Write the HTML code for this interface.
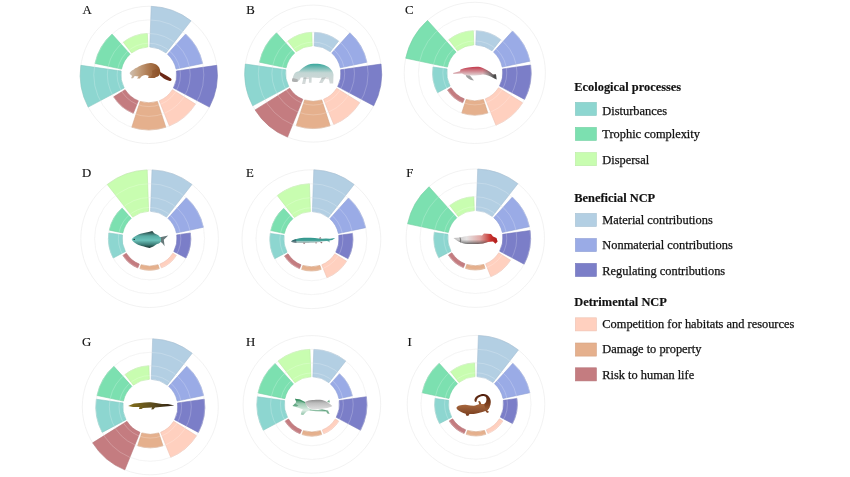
<!DOCTYPE html>
<html lang="en"><head><meta charset="utf-8"><title>Figure</title>
<style>
html,body{margin:0;padding:0;background:#fff}
svg{display:block;filter:blur(0.3px)}
text{font-family:"Liberation Serif","DejaVu Serif",serif;fill:#111}
.lab{font-size:12.8px;stroke:#111;stroke-width:0.15px}
.lh{font-size:12.4px;font-weight:bold;stroke:#111;stroke-width:0.15px}
.li{font-size:12.4px;stroke:#111;stroke-width:0.25px}
</style></head><body>
<svg width="850" height="477" viewBox="0 0 850 477">
<rect width="850" height="477" fill="#fff"/>
<g>
<circle cx="148.8" cy="74.9" r="41.47" fill="none" stroke="#e9e9e9" stroke-width="0.6"/>
<circle cx="148.8" cy="74.9" r="55.03" fill="none" stroke="#e9e9e9" stroke-width="0.6"/>
<circle cx="148.8" cy="74.9" r="68.60" fill="none" stroke="#e9e9e9" stroke-width="0.6"/>
<path d="M149.77,47.02L151.19,6.34A68.60,68.60 0 0 1 191.03,20.84L165.98,52.91A27.90,27.90 0 0 0 149.77,47.02Z" fill="#B3CFE3" stroke="#a6c0d3" stroke-width="0.6"/>
<path d="M167.47,54.17L185.62,34.00A55.03,55.03 0 0 1 202.63,63.46L176.09,69.10A27.90,27.90 0 0 0 167.47,54.17Z" fill="#9AABE6" stroke="#8f9fd5" stroke-width="0.6"/>
<path d="M176.43,71.02L216.73,65.35A68.60,68.60 0 0 1 209.37,107.11L173.43,88.00A27.90,27.90 0 0 0 176.43,71.02Z" fill="#7B7EC8" stroke="#7275ba" stroke-width="0.6"/>
<path d="M172.46,89.68L195.47,104.06A55.03,55.03 0 0 1 169.42,125.93L159.25,100.77A27.90,27.90 0 0 0 172.46,89.68Z" fill="#FFD0BF" stroke="#edc1b1" stroke-width="0.6"/>
<path d="M157.42,101.43L165.81,127.24A55.03,55.03 0 0 1 131.79,127.24L140.18,101.43A27.90,27.90 0 0 0 157.42,101.43Z" fill="#E5B08D" stroke="#d4a383" stroke-width="0.6"/>
<path d="M138.35,100.77L133.27,113.35A41.47,41.47 0 0 1 113.63,96.87L125.14,89.68A27.90,27.90 0 0 0 138.35,100.77Z" fill="#C47C80" stroke="#b67377" stroke-width="0.6"/>
<path d="M124.17,88.00L88.23,107.11A68.60,68.60 0 0 1 80.87,65.35L121.17,71.02A27.90,27.90 0 0 0 124.17,88.00Z" fill="#8DD6D0" stroke="#83c7c1" stroke-width="0.6"/>
<path d="M121.51,69.10L94.97,63.46A55.03,55.03 0 0 1 111.98,34.00L130.13,54.17A27.90,27.90 0 0 0 121.51,69.10Z" fill="#7CE0B0" stroke="#73d0a3" stroke-width="0.6"/>
<path d="M131.62,52.91L123.27,42.22A41.47,41.47 0 0 1 147.35,33.46L147.83,47.02A27.90,27.90 0 0 0 131.62,52.91Z" fill="#C8FDB0" stroke="#baeba3" stroke-width="0.6"/>
<circle cx="148.8" cy="74.9" r="31.70" fill="none" stroke="#fff" stroke-opacity="0.35" stroke-width="0.6"/>
<circle cx="148.8" cy="74.9" r="41.47" fill="none" stroke="#fff" stroke-opacity="0.35" stroke-width="0.6"/>
<circle cx="148.8" cy="74.9" r="55.03" fill="none" stroke="#fff" stroke-opacity="0.35" stroke-width="0.6"/>
</g>
<text x="82.4" y="13.9" class="lab">A</text>
<g>
<circle cx="313.2" cy="73.6" r="41.30" fill="none" stroke="#e9e9e9" stroke-width="0.6"/>
<circle cx="313.2" cy="73.6" r="54.90" fill="none" stroke="#e9e9e9" stroke-width="0.6"/>
<circle cx="313.2" cy="73.6" r="68.50" fill="none" stroke="#e9e9e9" stroke-width="0.6"/>
<path d="M314.17,45.92L314.64,32.33A41.30,41.30 0 0 1 338.63,41.06L330.25,51.77A27.70,27.70 0 0 0 314.17,45.92Z" fill="#B3CFE3" stroke="#a6c0d3" stroke-width="0.6"/>
<path d="M331.73,53.01L349.94,32.80A54.90,54.90 0 0 1 366.90,62.19L340.29,67.84A27.70,27.70 0 0 0 331.73,53.01Z" fill="#9AABE6" stroke="#8f9fd5" stroke-width="0.6"/>
<path d="M340.63,69.74L381.03,64.07A68.50,68.50 0 0 1 373.68,105.76L337.66,86.60A27.70,27.70 0 0 0 340.63,69.74Z" fill="#7B7EC8" stroke="#7275ba" stroke-width="0.6"/>
<path d="M336.69,88.28L359.76,102.69A54.90,54.90 0 0 1 333.77,124.50L323.58,99.28A27.70,27.70 0 0 0 336.69,88.28Z" fill="#FFD0BF" stroke="#edc1b1" stroke-width="0.6"/>
<path d="M321.76,99.94L330.17,125.81A54.90,54.90 0 0 1 296.23,125.81L304.64,99.94A27.70,27.70 0 0 0 321.76,99.94Z" fill="#E5B08D" stroke="#d4a383" stroke-width="0.6"/>
<path d="M302.82,99.28L287.54,137.11A68.50,68.50 0 0 1 255.11,109.90L289.71,88.28A27.70,27.70 0 0 0 302.82,99.28Z" fill="#C47C80" stroke="#b67377" stroke-width="0.6"/>
<path d="M288.74,86.60L252.72,105.76A68.50,68.50 0 0 1 245.37,64.07L285.77,69.74A27.70,27.70 0 0 0 288.74,86.60Z" fill="#8DD6D0" stroke="#83c7c1" stroke-width="0.6"/>
<path d="M286.11,67.84L259.50,62.19A54.90,54.90 0 0 1 276.46,32.80L294.67,53.01A27.70,27.70 0 0 0 286.11,67.84Z" fill="#7CE0B0" stroke="#73d0a3" stroke-width="0.6"/>
<path d="M296.15,51.77L287.77,41.06A41.30,41.30 0 0 1 311.76,32.33L312.23,45.92A27.70,27.70 0 0 0 296.15,51.77Z" fill="#C8FDB0" stroke="#baeba3" stroke-width="0.6"/>
<circle cx="313.2" cy="73.6" r="31.51" fill="none" stroke="#fff" stroke-opacity="0.35" stroke-width="0.6"/>
<circle cx="313.2" cy="73.6" r="41.30" fill="none" stroke="#fff" stroke-opacity="0.35" stroke-width="0.6"/>
<circle cx="313.2" cy="73.6" r="54.90" fill="none" stroke="#fff" stroke-opacity="0.35" stroke-width="0.6"/>
</g>
<text x="246.2" y="13.9" class="lab">B</text>
<g>
<circle cx="474.8" cy="72.9" r="42.20" fill="none" stroke="#e9e9e9" stroke-width="0.6"/>
<circle cx="474.8" cy="72.9" r="56.40" fill="none" stroke="#e9e9e9" stroke-width="0.6"/>
<circle cx="474.8" cy="72.9" r="70.60" fill="none" stroke="#e9e9e9" stroke-width="0.6"/>
<path d="M475.78,44.92L476.27,30.73A42.20,42.20 0 0 1 500.78,39.65L492.04,50.84A28.00,28.00 0 0 0 475.78,44.92Z" fill="#B3CFE3" stroke="#a6c0d3" stroke-width="0.6"/>
<path d="M493.54,52.09L512.54,30.99A56.40,56.40 0 0 1 529.97,61.17L502.19,67.08A28.00,28.00 0 0 0 493.54,52.09Z" fill="#9AABE6" stroke="#8f9fd5" stroke-width="0.6"/>
<path d="M502.53,69.00L530.65,65.05A56.40,56.40 0 0 1 524.60,99.38L499.52,86.05A28.00,28.00 0 0 0 502.53,69.00Z" fill="#7B7EC8" stroke="#7275ba" stroke-width="0.6"/>
<path d="M498.55,87.74L522.63,102.79A56.40,56.40 0 0 1 495.93,125.19L485.29,98.86A28.00,28.00 0 0 0 498.55,87.74Z" fill="#FFD0BF" stroke="#edc1b1" stroke-width="0.6"/>
<path d="M483.45,99.53L487.84,113.03A42.20,42.20 0 0 1 461.76,113.03L466.15,99.53A28.00,28.00 0 0 0 483.45,99.53Z" fill="#E5B08D" stroke="#d4a383" stroke-width="0.6"/>
<path d="M464.31,98.86L462.72,102.81A32.26,32.26 0 0 1 447.44,90.00L451.05,87.74A28.00,28.00 0 0 0 464.31,98.86Z" fill="#C47C80" stroke="#b67377" stroke-width="0.6"/>
<path d="M450.08,86.05L437.54,92.71A42.20,42.20 0 0 1 433.01,67.03L447.07,69.00A28.00,28.00 0 0 0 450.08,86.05Z" fill="#8DD6D0" stroke="#83c7c1" stroke-width="0.6"/>
<path d="M447.41,67.08L405.74,58.22A70.60,70.60 0 0 1 427.56,20.43L456.06,52.09A28.00,28.00 0 0 0 447.41,67.08Z" fill="#7CE0B0" stroke="#73d0a3" stroke-width="0.6"/>
<path d="M457.56,50.84L448.82,39.65A42.20,42.20 0 0 1 473.33,30.73L473.82,44.92A28.00,28.00 0 0 0 457.56,50.84Z" fill="#C8FDB0" stroke="#baeba3" stroke-width="0.6"/>
<circle cx="474.8" cy="72.9" r="31.98" fill="none" stroke="#fff" stroke-opacity="0.35" stroke-width="0.6"/>
<circle cx="474.8" cy="72.9" r="42.20" fill="none" stroke="#fff" stroke-opacity="0.35" stroke-width="0.6"/>
<circle cx="474.8" cy="72.9" r="56.40" fill="none" stroke="#fff" stroke-opacity="0.35" stroke-width="0.6"/>
</g>
<text x="405.1" y="13.9" class="lab">C</text>
<g>
<circle cx="149.6" cy="238.7" r="41.20" fill="none" stroke="#e9e9e9" stroke-width="0.6"/>
<circle cx="149.6" cy="238.7" r="55.00" fill="none" stroke="#e9e9e9" stroke-width="0.6"/>
<circle cx="149.6" cy="238.7" r="68.80" fill="none" stroke="#e9e9e9" stroke-width="0.6"/>
<path d="M150.56,211.32L152.00,169.94A68.80,68.80 0 0 1 191.96,184.48L166.47,217.11A27.40,27.40 0 0 0 150.56,211.32Z" fill="#B3CFE3" stroke="#a6c0d3" stroke-width="0.6"/>
<path d="M167.93,218.34L186.40,197.83A55.00,55.00 0 0 1 203.40,227.26L176.40,233.00A27.40,27.40 0 0 0 167.93,218.34Z" fill="#9AABE6" stroke="#8f9fd5" stroke-width="0.6"/>
<path d="M176.73,234.89L190.40,232.97A41.20,41.20 0 0 1 185.98,258.04L173.79,251.56A27.40,27.40 0 0 0 176.73,234.89Z" fill="#7B7EC8" stroke="#7275ba" stroke-width="0.6"/>
<path d="M172.84,253.22L176.35,255.41A31.54,31.54 0 0 1 161.42,267.94L159.86,264.10A27.40,27.40 0 0 0 172.84,253.22Z" fill="#FFD0BF" stroke="#edc1b1" stroke-width="0.6"/>
<path d="M158.07,264.76L159.35,268.70A31.54,31.54 0 0 1 139.85,268.70L141.13,264.76A27.40,27.40 0 0 0 158.07,264.76Z" fill="#E5B08D" stroke="#d4a383" stroke-width="0.6"/>
<path d="M139.34,264.10L137.78,267.94A31.54,31.54 0 0 1 122.85,255.41L126.36,253.22A27.40,27.40 0 0 0 139.34,264.10Z" fill="#C47C80" stroke="#b67377" stroke-width="0.6"/>
<path d="M125.41,251.56L113.22,258.04A41.20,41.20 0 0 1 108.80,232.97L122.47,234.89A27.40,27.40 0 0 0 125.41,251.56Z" fill="#8DD6D0" stroke="#83c7c1" stroke-width="0.6"/>
<path d="M122.80,233.00L109.30,230.13A41.20,41.20 0 0 1 122.03,208.08L131.27,218.34A27.40,27.40 0 0 0 122.80,233.00Z" fill="#7CE0B0" stroke="#73d0a3" stroke-width="0.6"/>
<path d="M132.73,217.11L107.24,184.48A68.80,68.80 0 0 1 147.20,169.94L148.64,211.32A27.40,27.40 0 0 0 132.73,217.11Z" fill="#C8FDB0" stroke="#baeba3" stroke-width="0.6"/>
<circle cx="149.6" cy="238.7" r="31.26" fill="none" stroke="#fff" stroke-opacity="0.35" stroke-width="0.6"/>
<circle cx="149.6" cy="238.7" r="41.20" fill="none" stroke="#fff" stroke-opacity="0.35" stroke-width="0.6"/>
<circle cx="149.6" cy="238.7" r="55.00" fill="none" stroke="#fff" stroke-opacity="0.35" stroke-width="0.6"/>
</g>
<text x="82.1" y="176.8" class="lab">D</text>
<g>
<circle cx="311.4" cy="239.2" r="41.53" fill="none" stroke="#e9e9e9" stroke-width="0.6"/>
<circle cx="311.4" cy="239.2" r="55.47" fill="none" stroke="#e9e9e9" stroke-width="0.6"/>
<circle cx="311.4" cy="239.2" r="69.40" fill="none" stroke="#e9e9e9" stroke-width="0.6"/>
<path d="M312.36,211.62L313.82,169.84A69.40,69.40 0 0 1 354.13,184.51L328.39,217.45A27.60,27.60 0 0 0 312.36,211.62Z" fill="#B3CFE3" stroke="#a6c0d3" stroke-width="0.6"/>
<path d="M329.87,218.69L348.51,197.98A55.47,55.47 0 0 1 365.65,227.67L338.40,233.46A27.60,27.60 0 0 0 329.87,218.69Z" fill="#9AABE6" stroke="#8f9fd5" stroke-width="0.6"/>
<path d="M338.73,235.36L352.53,233.42A41.53,41.53 0 0 1 348.07,258.70L335.77,252.16A27.60,27.60 0 0 0 338.73,235.36Z" fill="#7B7EC8" stroke="#7275ba" stroke-width="0.6"/>
<path d="M334.81,253.83L346.62,261.21A41.53,41.53 0 0 1 326.96,277.71L321.74,264.79A27.60,27.60 0 0 0 334.81,253.83Z" fill="#FFD0BF" stroke="#edc1b1" stroke-width="0.6"/>
<path d="M319.93,265.45L321.22,269.42A31.78,31.78 0 0 1 301.58,269.42L302.87,265.45A27.60,27.60 0 0 0 319.93,265.45Z" fill="#E5B08D" stroke="#d4a383" stroke-width="0.6"/>
<path d="M301.06,264.79L299.50,268.67A31.78,31.78 0 0 1 284.45,256.04L287.99,253.83A27.60,27.60 0 0 0 301.06,264.79Z" fill="#C47C80" stroke="#b67377" stroke-width="0.6"/>
<path d="M287.03,252.16L274.73,258.70A41.53,41.53 0 0 1 270.27,233.42L284.07,235.36A27.60,27.60 0 0 0 287.03,252.16Z" fill="#8DD6D0" stroke="#83c7c1" stroke-width="0.6"/>
<path d="M284.40,233.46L270.77,230.56A41.53,41.53 0 0 1 283.61,208.33L292.93,218.69A27.60,27.60 0 0 0 284.40,233.46Z" fill="#7CE0B0" stroke="#73d0a3" stroke-width="0.6"/>
<path d="M294.41,217.45L277.25,195.49A55.47,55.47 0 0 1 309.46,183.77L310.44,211.62A27.60,27.60 0 0 0 294.41,217.45Z" fill="#C8FDB0" stroke="#baeba3" stroke-width="0.6"/>
<circle cx="311.4" cy="239.2" r="31.50" fill="none" stroke="#fff" stroke-opacity="0.35" stroke-width="0.6"/>
<circle cx="311.4" cy="239.2" r="41.53" fill="none" stroke="#fff" stroke-opacity="0.35" stroke-width="0.6"/>
<circle cx="311.4" cy="239.2" r="55.47" fill="none" stroke="#fff" stroke-opacity="0.35" stroke-width="0.6"/>
</g>
<text x="246.1" y="176.8" class="lab">E</text>
<g>
<circle cx="475.3" cy="238.2" r="41.47" fill="none" stroke="#e9e9e9" stroke-width="0.6"/>
<circle cx="475.3" cy="238.2" r="55.33" fill="none" stroke="#e9e9e9" stroke-width="0.6"/>
<circle cx="475.3" cy="238.2" r="69.20" fill="none" stroke="#e9e9e9" stroke-width="0.6"/>
<path d="M476.26,210.62L477.72,169.04A69.20,69.20 0 0 1 517.90,183.67L492.29,216.45A27.60,27.60 0 0 0 476.26,210.62Z" fill="#B3CFE3" stroke="#a6c0d3" stroke-width="0.6"/>
<path d="M493.77,217.69L512.33,197.08A55.33,55.33 0 0 1 529.42,226.70L502.30,232.46A27.60,27.60 0 0 0 493.77,217.69Z" fill="#9AABE6" stroke="#8f9fd5" stroke-width="0.6"/>
<path d="M502.63,234.36L530.09,230.50A55.33,55.33 0 0 1 524.16,264.18L499.67,251.16A27.60,27.60 0 0 0 502.63,234.36Z" fill="#7B7EC8" stroke="#7275ba" stroke-width="0.6"/>
<path d="M498.71,252.83L510.47,260.17A41.47,41.47 0 0 1 490.83,276.65L485.64,263.79A27.60,27.60 0 0 0 498.71,252.83Z" fill="#FFD0BF" stroke="#edc1b1" stroke-width="0.6"/>
<path d="M483.83,264.45L485.11,268.41A31.76,31.76 0 0 1 465.49,268.41L466.77,264.45A27.60,27.60 0 0 0 483.83,264.45Z" fill="#E5B08D" stroke="#d4a383" stroke-width="0.6"/>
<path d="M464.96,263.79L463.40,267.65A31.76,31.76 0 0 1 448.37,255.03L451.89,252.83A27.60,27.60 0 0 0 464.96,263.79Z" fill="#C47C80" stroke="#b67377" stroke-width="0.6"/>
<path d="M450.93,251.16L438.69,257.67A41.47,41.47 0 0 1 434.24,232.43L447.97,234.36A27.60,27.60 0 0 0 450.93,251.16Z" fill="#8DD6D0" stroke="#83c7c1" stroke-width="0.6"/>
<path d="M448.30,232.46L407.61,223.81A69.20,69.20 0 0 1 429.00,186.77L456.83,217.69A27.60,27.60 0 0 0 448.30,232.46Z" fill="#7CE0B0" stroke="#73d0a3" stroke-width="0.6"/>
<path d="M458.31,216.45L449.77,205.52A41.47,41.47 0 0 1 473.85,196.76L474.34,210.62A27.60,27.60 0 0 0 458.31,216.45Z" fill="#C8FDB0" stroke="#baeba3" stroke-width="0.6"/>
<circle cx="475.3" cy="238.2" r="31.48" fill="none" stroke="#fff" stroke-opacity="0.35" stroke-width="0.6"/>
<circle cx="475.3" cy="238.2" r="41.47" fill="none" stroke="#fff" stroke-opacity="0.35" stroke-width="0.6"/>
<circle cx="475.3" cy="238.2" r="55.33" fill="none" stroke="#fff" stroke-opacity="0.35" stroke-width="0.6"/>
</g>
<text x="406.2" y="176.8" class="lab">F</text>
<g>
<circle cx="150.3" cy="406.8" r="41.00" fill="none" stroke="#e9e9e9" stroke-width="0.6"/>
<circle cx="150.3" cy="406.8" r="54.50" fill="none" stroke="#e9e9e9" stroke-width="0.6"/>
<circle cx="150.3" cy="406.8" r="68.00" fill="none" stroke="#e9e9e9" stroke-width="0.6"/>
<path d="M151.26,379.32L152.67,338.84A68.00,68.00 0 0 1 192.16,353.22L167.23,385.13A27.50,27.50 0 0 0 151.26,379.32Z" fill="#B3CFE3" stroke="#a6c0d3" stroke-width="0.6"/>
<path d="M168.70,386.36L186.77,366.30A54.50,54.50 0 0 1 203.61,395.47L177.20,401.08A27.50,27.50 0 0 0 168.70,386.36Z" fill="#9AABE6" stroke="#8f9fd5" stroke-width="0.6"/>
<path d="M177.53,402.97L204.27,399.22A54.50,54.50 0 0 1 198.42,432.39L174.58,419.71A27.50,27.50 0 0 0 177.53,402.97Z" fill="#7B7EC8" stroke="#7275ba" stroke-width="0.6"/>
<path d="M173.62,421.37L196.52,435.68A54.50,54.50 0 0 1 170.72,457.33L160.60,432.30A27.50,27.50 0 0 0 173.62,421.37Z" fill="#FFD0BF" stroke="#edc1b1" stroke-width="0.6"/>
<path d="M158.80,432.95L162.97,445.79A41.00,41.00 0 0 1 137.63,445.79L141.80,432.95A27.50,27.50 0 0 0 158.80,432.95Z" fill="#E5B08D" stroke="#d4a383" stroke-width="0.6"/>
<path d="M140.00,432.30L124.83,469.85A68.00,68.00 0 0 1 92.63,442.83L126.98,421.37A27.50,27.50 0 0 0 140.00,432.30Z" fill="#C47C80" stroke="#b67377" stroke-width="0.6"/>
<path d="M126.02,419.71L102.18,432.39A54.50,54.50 0 0 1 96.33,399.22L123.07,402.97A27.50,27.50 0 0 0 126.02,419.71Z" fill="#8DD6D0" stroke="#83c7c1" stroke-width="0.6"/>
<path d="M123.40,401.08L96.99,395.47A54.50,54.50 0 0 1 113.83,366.30L131.90,386.36A27.50,27.50 0 0 0 123.40,401.08Z" fill="#7CE0B0" stroke="#73d0a3" stroke-width="0.6"/>
<path d="M133.37,385.13L125.06,374.49A41.00,41.00 0 0 1 148.87,365.82L149.34,379.32A27.50,27.50 0 0 0 133.37,385.13Z" fill="#C8FDB0" stroke="#baeba3" stroke-width="0.6"/>
<circle cx="150.3" cy="406.8" r="31.28" fill="none" stroke="#fff" stroke-opacity="0.35" stroke-width="0.6"/>
<circle cx="150.3" cy="406.8" r="41.00" fill="none" stroke="#fff" stroke-opacity="0.35" stroke-width="0.6"/>
<circle cx="150.3" cy="406.8" r="54.50" fill="none" stroke="#fff" stroke-opacity="0.35" stroke-width="0.6"/>
</g>
<text x="82.1" y="346" class="lab">G</text>
<g>
<circle cx="311.9" cy="404.4" r="41.33" fill="none" stroke="#e9e9e9" stroke-width="0.6"/>
<circle cx="311.9" cy="404.4" r="55.07" fill="none" stroke="#e9e9e9" stroke-width="0.6"/>
<circle cx="311.9" cy="404.4" r="68.80" fill="none" stroke="#e9e9e9" stroke-width="0.6"/>
<path d="M312.86,376.82L313.82,349.37A55.07,55.07 0 0 1 345.80,361.01L328.89,382.65A27.60,27.60 0 0 0 312.86,376.82Z" fill="#B3CFE3" stroke="#a6c0d3" stroke-width="0.6"/>
<path d="M330.37,383.89L339.56,373.68A41.33,41.33 0 0 1 352.33,395.81L338.90,398.66A27.60,27.60 0 0 0 330.37,383.89Z" fill="#9AABE6" stroke="#8f9fd5" stroke-width="0.6"/>
<path d="M339.23,400.56L366.43,396.74A55.07,55.07 0 0 1 360.52,430.25L336.27,417.36A27.60,27.60 0 0 0 339.23,400.56Z" fill="#7B7EC8" stroke="#7275ba" stroke-width="0.6"/>
<path d="M335.31,419.03L338.80,421.21A31.72,31.72 0 0 1 323.78,433.81L322.24,429.99A27.60,27.60 0 0 0 335.31,419.03Z" fill="#FFD0BF" stroke="#edc1b1" stroke-width="0.6"/>
<path d="M320.43,430.65L321.70,434.57A31.72,31.72 0 0 1 302.10,434.57L303.37,430.65A27.60,27.60 0 0 0 320.43,430.65Z" fill="#E5B08D" stroke="#d4a383" stroke-width="0.6"/>
<path d="M301.56,429.99L300.02,433.81A31.72,31.72 0 0 1 285.00,421.21L288.49,419.03A27.60,27.60 0 0 0 301.56,429.99Z" fill="#C47C80" stroke="#b67377" stroke-width="0.6"/>
<path d="M287.53,417.36L263.28,430.25A55.07,55.07 0 0 1 257.37,396.74L284.57,400.56A27.60,27.60 0 0 0 287.53,417.36Z" fill="#8DD6D0" stroke="#83c7c1" stroke-width="0.6"/>
<path d="M284.90,398.66L258.04,392.95A55.07,55.07 0 0 1 275.05,363.48L293.43,383.89A27.60,27.60 0 0 0 284.90,398.66Z" fill="#7CE0B0" stroke="#73d0a3" stroke-width="0.6"/>
<path d="M294.91,382.65L278.00,361.01A55.07,55.07 0 0 1 309.98,349.37L310.94,376.82A27.60,27.60 0 0 0 294.91,382.65Z" fill="#C8FDB0" stroke="#baeba3" stroke-width="0.6"/>
<circle cx="311.9" cy="404.4" r="31.45" fill="none" stroke="#fff" stroke-opacity="0.35" stroke-width="0.6"/>
<circle cx="311.9" cy="404.4" r="41.33" fill="none" stroke="#fff" stroke-opacity="0.35" stroke-width="0.6"/>
<circle cx="311.9" cy="404.4" r="55.07" fill="none" stroke="#fff" stroke-opacity="0.35" stroke-width="0.6"/>
</g>
<text x="246.1" y="346" class="lab">H</text>
<g>
<circle cx="476.0" cy="404.2" r="41.33" fill="none" stroke="#e9e9e9" stroke-width="0.6"/>
<circle cx="476.0" cy="404.2" r="55.07" fill="none" stroke="#e9e9e9" stroke-width="0.6"/>
<circle cx="476.0" cy="404.2" r="68.80" fill="none" stroke="#e9e9e9" stroke-width="0.6"/>
<path d="M476.96,376.62L478.40,335.44A68.80,68.80 0 0 1 518.36,349.98L492.99,382.45A27.60,27.60 0 0 0 476.96,376.62Z" fill="#B3CFE3" stroke="#a6c0d3" stroke-width="0.6"/>
<path d="M494.47,383.69L512.85,363.28A55.07,55.07 0 0 1 529.86,392.75L503.00,398.46A27.60,27.60 0 0 0 494.47,383.69Z" fill="#9AABE6" stroke="#8f9fd5" stroke-width="0.6"/>
<path d="M503.33,400.36L516.93,398.45A41.33,41.33 0 0 1 512.50,423.60L500.37,417.16A27.60,27.60 0 0 0 503.33,400.36Z" fill="#7B7EC8" stroke="#7275ba" stroke-width="0.6"/>
<path d="M499.41,418.83L502.90,421.01A31.72,31.72 0 0 1 487.88,433.61L486.34,429.79A27.60,27.60 0 0 0 499.41,418.83Z" fill="#FFD0BF" stroke="#edc1b1" stroke-width="0.6"/>
<path d="M484.53,430.45L485.80,434.37A31.72,31.72 0 0 1 466.20,434.37L467.47,430.45A27.60,27.60 0 0 0 484.53,430.45Z" fill="#E5B08D" stroke="#d4a383" stroke-width="0.6"/>
<path d="M465.66,429.79L464.12,433.61A31.72,31.72 0 0 1 449.10,421.01L452.59,418.83A27.60,27.60 0 0 0 465.66,429.79Z" fill="#C47C80" stroke="#b67377" stroke-width="0.6"/>
<path d="M451.63,417.16L439.50,423.60A41.33,41.33 0 0 1 435.07,398.45L448.67,400.36A27.60,27.60 0 0 0 451.63,417.16Z" fill="#8DD6D0" stroke="#83c7c1" stroke-width="0.6"/>
<path d="M449.00,398.46L422.14,392.75A55.07,55.07 0 0 1 439.15,363.28L457.53,383.69A27.60,27.60 0 0 0 449.00,398.46Z" fill="#7CE0B0" stroke="#73d0a3" stroke-width="0.6"/>
<path d="M459.01,382.45L450.55,371.63A41.33,41.33 0 0 1 474.56,362.89L475.04,376.62A27.60,27.60 0 0 0 459.01,382.45Z" fill="#C8FDB0" stroke="#baeba3" stroke-width="0.6"/>
<circle cx="476.0" cy="404.2" r="31.45" fill="none" stroke="#fff" stroke-opacity="0.35" stroke-width="0.6"/>
<circle cx="476.0" cy="404.2" r="41.33" fill="none" stroke="#fff" stroke-opacity="0.35" stroke-width="0.6"/>
<circle cx="476.0" cy="404.2" r="55.07" fill="none" stroke="#fff" stroke-opacity="0.35" stroke-width="0.6"/>
</g>
<text x="407.6" y="346" class="lab">I</text>
<defs>
<filter id="soft" x="-5%" y="-5%" width="110%" height="110%"><feGaussianBlur stdDeviation="0.35"/></filter>
<linearGradient id="gBeaver" x1="0" y1="0" x2="1" y2="0"><stop offset="0" stop-color="#CDBFB2"/><stop offset="0.25" stop-color="#C7A585"/><stop offset="0.6" stop-color="#AE7B52"/><stop offset="1" stop-color="#8F5429"/></linearGradient>
<linearGradient id="gHippo" x1="0" y1="0" x2="0" y2="1"><stop offset="0" stop-color="#37A79C"/><stop offset="0.45" stop-color="#C3D6D4"/><stop offset="1" stop-color="#D6D9D9"/></linearGradient>
<linearGradient id="gDolph" x1="0" y1="0" x2="0" y2="1"><stop offset="0" stop-color="#C23A4C"/><stop offset="0.7" stop-color="#E2DADA"/><stop offset="1" stop-color="#C9C9C9"/></linearGradient>
<linearGradient id="gDolphT" x1="0" y1="0" x2="1" y2="0"><stop offset="0.68" stop-color="#555" stop-opacity="0"/><stop offset="0.95" stop-color="#444" stop-opacity="0.95"/></linearGradient>
<linearGradient id="gFish" x1="0" y1="0" x2="0" y2="1"><stop offset="0" stop-color="#1F3231"/><stop offset="0.3" stop-color="#58ACA4"/><stop offset="0.55" stop-color="#6CC2BA"/><stop offset="0.8" stop-color="#3E7F79"/><stop offset="1" stop-color="#162E2C"/></linearGradient>
<linearGradient id="gStur" x1="0" y1="0" x2="0" y2="1"><stop offset="0" stop-color="#2F968C"/><stop offset="0.5" stop-color="#45A097"/><stop offset="0.8" stop-color="#BFD3D1"/><stop offset="1" stop-color="#8FA5A3"/></linearGradient>
<linearGradient id="gAra" x1="0" y1="0" x2="1" y2="0"><stop offset="0" stop-color="#BDBDBD"/><stop offset="0.3" stop-color="#E6E3E3"/><stop offset="0.6" stop-color="#E1A9A6"/><stop offset="0.85" stop-color="#C5302B"/><stop offset="1" stop-color="#B01C1C"/></linearGradient>
<linearGradient id="gAraB" x1="0" y1="0" x2="0" y2="1"><stop offset="0.5" stop-color="#555" stop-opacity="0"/><stop offset="1" stop-color="#444" stop-opacity="0.75"/></linearGradient>
<linearGradient id="gCai" x1="0" y1="0" x2="1" y2="0"><stop offset="0" stop-color="#84701F"/><stop offset="0.55" stop-color="#5A4A1C"/><stop offset="1" stop-color="#2A1E14"/></linearGradient>
<linearGradient id="gShell" x1="0" y1="0" x2="0" y2="1"><stop offset="0" stop-color="#8E8E8E"/><stop offset="0.35" stop-color="#BDBDBD"/><stop offset="1" stop-color="#DEDEDE"/></linearGradient>
<linearGradient id="gTurt" x1="0" y1="0" x2="0" y2="1"><stop offset="0" stop-color="#2F8A5B"/><stop offset="0.3" stop-color="#9CCBB2"/><stop offset="0.7" stop-color="#DCEDE4"/><stop offset="1" stop-color="#8FC3A8"/></linearGradient>
<linearGradient id="gSal" x1="0" y1="0" x2="0" y2="1"><stop offset="0" stop-color="#AA6A40"/><stop offset="1" stop-color="#763C1E"/></linearGradient>
<linearGradient id="gSalT" x1="0" y1="0" x2="0" y2="1"><stop offset="0" stop-color="#4E1D0C"/><stop offset="0.6" stop-color="#7B3F1F"/><stop offset="1" stop-color="#9A5C34"/></linearGradient>
</defs>
<g id="animals" filter="url(#soft)">
<!-- A beaver -->
<path d="M129.6,73 C130.5,71.5 132,70.3 133.4,69.7 C134.5,68.8 136,68 137.2,67.6 C139,66.4 141.5,65.3 143.5,64.6 C146,63.5 148.5,63 151,63.1 C153.3,63.2 155.5,64 156.9,65.1 C158.8,66.6 160,68.6 160.2,70.9 C160.4,72.4 160,73.8 159.4,74.7 C158.8,76 157.5,76.8 156,77 L154.5,77.9 L148.3,77.9 C148,77.2 148.3,76.5 148.9,76 C147.5,75.5 146.3,75.2 145.1,75.1 C143.8,75.4 142.5,75.8 141.4,76.4 L139.8,78.4 L137,78.5 L138.6,76.5 C137,76.3 135.8,76.2 134.7,76 L133,78.2 L131,78.2 L132,76 C131.5,75.7 131.3,75.4 131.3,75.1 C130.3,74.6 129.7,73.8 129.6,73 Z" fill="url(#gBeaver)"/>
<path d="M152,71 C153,74 152,76.5 149,77.9 L154.5,77.9 L156,77 C158.5,76.3 160,73.5 160.2,70.9 C158,69 154,69 152,71Z" fill="#8A4E25" opacity="0.45"/>
<path d="M160.1,72 C163.5,73.8 167.5,76 170.3,77.9 C171.8,78.9 172,80.2 170.8,80.8 C169.5,81.3 168,80.6 166.9,80.1 C164.5,79.2 162.5,77.6 159.8,75.3 Z" fill="#6A2812"/>
<!-- B hippo -->
<path d="M292.8,78 C293.2,76 294,74.3 294.9,73 C296.2,72 297.8,71.4 299.1,71.3 C300.3,70 301.8,68.6 303.3,67.6 C306.3,65.3 309.8,63.9 313.3,63.8 C317,63.6 321,64 324.2,65 C327.3,66 330,67.8 331.4,70.1 C332.6,71.5 333.3,73.2 333.5,74.7 L333.2,83.4 L329.8,83.4 L328.6,77.8 L326,77.2 L322.4,83.1 L319,83.1 L321.8,77.8 C318.5,78 315,77.8 311.7,77.5 L311.5,82.8 L308.9,82.8 L309,77.6 L306.6,77.3 L305.2,83.9 L302,83.9 L303.6,77.6 L300.8,77.6 C300,79.5 299,80.8 297.8,81.4 C296,82.2 293.8,82.2 292.4,81.6 C291.6,80.6 292,79.2 292.8,78 Z" fill="url(#gHippo)"/>
<path d="M292.4,81.6 C291.6,80.6 292,79.2 292.8,78 L297.5,79.2 C298,80 298,80.8 297.8,81.4 C296,82.2 293.8,82.2 292.4,81.6Z" fill="#A3A3A3" opacity="0.75"/>
<path d="M321.8,77.8 L326,77.2 L328.6,77.8 L329,79.5 L325,78.6 L321,79.4Z M303.6,77.6 L309,77.6 L308.9,79 L303.2,79Z" fill="#999" opacity="0.35"/>
<!-- C dolphin -->
<path d="M465.5,74.5 L469.5,75 L474,80.6 L471,80 L469,79 L466.5,77 Z" fill="#9f9f9f"/>
<path d="M453,73 L460,71.3 L460.5,69.5 C466,67.5 474,66.5 480,67 C486,69 491,72.5 493,74.5 L496,74.3 L496.6,79.6 L493.5,78 C490,76 486,74.5 483,74.5 C478,75.6 470,76 465,75 L462,73.6 L453.5,73.9 Z" fill="url(#gDolph)"/>
<path d="M453,73 L460,71.3 L460.5,69.5 C466,67.5 474,66.5 480,67 C486,69 491,72.5 493,74.5 L496,74.3 L496.6,79.6 L493.5,78 C490,76 486,74.5 483,74.5 C478,75.6 470,76 465,75 L462,73.6 L453.5,73.9 Z" fill="url(#gDolphT)"/>
<!-- D fish -->
<path d="M160,237.3 L168.2,235.6 L163.8,239.7 L164.6,246.2 L162.6,243.6 L160.3,241.5 Z" fill="#66797A"/>
<path d="M131.7,239.7 C133,236.5 139,233.8 145,232.7 C147.5,232.2 149.8,231.6 152.3,230.9 L154.2,233.2 C156.3,234.1 157.6,235 158.6,235.5 L159.6,236.7 L161,237.6 L161,241.2 C160,243 158.5,243.8 157,244 C154.5,246 152,247 149.6,248 C147.5,247.6 145,247 143,246.2 C140,245.6 134,243.5 131.7,239.7 Z" fill="url(#gFish)"/>
<circle cx="134.2" cy="239.4" r="0.7" fill="#122"/>
<!-- E sturgeon -->
<path d="M291.2,241.2 C294,239 300,238 306,237.8 C312,237.8 318,238.3 322,238.8 L326,238.5 L330,238.7 L335.2,237.9 L332.3,240 L329.4,240.6 L330,242.4 L327,240.9 L322,241.6 C316,243 305,243.3 298,243 C294,242.8 291.3,242.3 291.2,241.2 Z" fill="url(#gStur)"/>
<path d="M291.2,241.2 C292.5,240.2 294,239.5 296,239 L296.5,242.9 C293.5,242.6 291.3,242.2 291.2,241.2Z" fill="#234" opacity="0.5"/>
<path d="M303,242.8 l2.5,0 l-1.5,1.4 Z M315,242.4 l2.3,0 l-1.3,1.4Z M320,242 l2.5,0 l-0.8,1.6Z M318.8,238.4 l1.4,-1.3 l1.3,1.5Z" fill="#8E6F72"/>
<!-- F arapaima -->
<path d="M453.5,238 L460,237.5 C466,236 476,235 482,235.5 L484,233.4 L491,234 L493,236.5 L496.5,238 L497.6,241.5 L495.5,243.8 L493,241.6 L488,242 L483,243.4 C476,244.3 468,244.3 463,243.2 C459,242 456,240 453.5,238 Z" fill="url(#gAra)"/>
<path d="M453.5,238 L460,237.5 C466,236 476,235 482,235.5 L488,242 L483,243.4 C476,244.3 468,244.3 463,243.2 C459,242 456,240 453.5,238 Z" fill="url(#gAraB)"/>
<path d="M460.3,237.3 C461.3,238.8 461.5,240.8 460.8,242.4 L459.6,241.8 C460.2,240.4 460,238.6 459.4,237.5Z" fill="#666" opacity="0.8"/>
<!-- G caiman -->
<path d="M128.1,406 L134,403.4 L140,403 C146,402 152,402 156,403 L162,404 L168,404 L174.3,405.6 L168,406.3 L160,406.9 L155,407.6 L153.5,409.2 L151.3,409.4 L152,407.6 L143,407.9 L141.5,409.1 L139,408.9 L139.5,407.1 L133,407.1 Z" fill="url(#gCai)"/>
<!-- H turtle -->
<path d="M295,398.8 L300,399.5 L305,402 L308,408 L312,409 L309.5,410.6 L306.5,411.4 L303.2,415 L300.8,414.6 L301.5,411.5 L303,409.4 L299,408 L292.5,406 L295,403.5 L296.2,402 Z" fill="url(#gTurt)"/>
<path d="M309.7,409.4 L325.6,410.4 L325.8,411.4 L316,411.2 L309.5,410.6Z" fill="#6FAE8C" opacity="0.8"/>
<path d="M295,398.8 L300,399.5 L305,402 L305.6,403.4 L299.5,400.8 L296.3,400.4Z M292.5,406 L295,403.5 L298.5,405.8 L296.5,406.5Z" fill="#2E8557" opacity="0.55"/>
<path d="M322,409.3 L328,410.6 L329.6,414 L327.4,413.6 L326,411.2 L318,410 Z M327,402 L329.2,399.8 L330,402.5 Z" fill="#3E8E63" opacity="0.7"/>
<path d="M305,402 C308,399.8 318,399.4 322,400 C326,401 330,403.5 332.3,406 C330,408 322,409.2 312,409.2 C308,408 305.5,405 305,402 Z" fill="url(#gShell)"/>
<!-- I salamander -->
<path d="M456.5,407.6 C457,406.5 458.2,405.7 459.4,405.4 C462,404.8 464.5,404.7 467,404.9 C469.3,405.1 471.5,405.6 473.7,405.7 C475.8,405.5 477.7,404.7 479.5,404 L484.1,404 C486.5,405 488.5,406 489.6,407 C489,408.5 488,409.6 487.1,410.3 L489.2,412 L487.1,413 L485.4,411.1 C483.5,411.9 481.5,412.4 479.5,412.8 C477.5,413.4 475.6,413.8 473.7,414.1 L469.5,414.1 L468.2,416 L466.1,415.5 L465.7,413.7 C464,413.3 462.5,412.7 461.1,412 C459.5,411.3 458.2,410.5 457.3,409.5 C456.7,408.9 456.4,408.2 456.5,407.6 Z" fill="url(#gSal)"/>
<path d="M478.3,401.2 C479,400.8 479.8,401 480.2,401.6 L481.4,404.2 L479.3,404.3 Z" fill="#8A5028"/>
<path d="M484.1,404 C485.5,403 486.2,402 486.2,401.1 C486.6,400 486.6,398.8 486.2,397.7 C485.8,396.8 484.9,396.2 483.7,396.1 C482.2,396 480.7,396.3 479.5,396.9 C478.3,397.5 477.4,398.4 477,399.4 C476.7,400.1 476.6,400.8 476.6,401.5 L475.3,401.9 C474.6,401.2 474.3,400.3 474.5,399.4 C475,397.8 476.3,396.4 477.9,395.6 C479.7,394.6 481.7,394 483.7,394.1 C485.8,394.3 487.6,395.2 488.7,396.5 C490,398 490.8,399.9 490.8,401.9 C490.8,403.8 490.4,405.5 489.6,407 C489,408.4 488,409.6 487.1,410.3 C485.5,409 484.3,406.5 484.1,404Z" fill="url(#gSalT)"/>
</g>

<text x="574.3" y="91.2" class="lh">Ecological processes</text>
<rect x="575.4" y="102.4" width="21" height="13.1" fill="#8DD6D0" stroke="#83c7c1" stroke-width="0.6"/>
<text x="602.3" y="115.1" class="li">Disturbances</text>
<rect x="575.4" y="127.4" width="21" height="13.1" fill="#7CE0B0" stroke="#73d0a3" stroke-width="0.6"/>
<text x="602.3" y="138.3" class="li">Trophic complexity</text>
<rect x="575.4" y="152.6" width="21" height="13.1" fill="#C8FDB0" stroke="#baeba3" stroke-width="0.6"/>
<text x="602.3" y="163.9" class="li">Dispersal</text>
<text x="574.3" y="202.2" class="lh">Beneficial NCP</text>
<rect x="575.4" y="213.4" width="21" height="13.1" fill="#B3CFE3" stroke="#a6c0d3" stroke-width="0.6"/>
<text x="602.3" y="223.7" class="li">Material contributions</text>
<rect x="575.4" y="238.5" width="21" height="13.1" fill="#9AABE6" stroke="#8f9fd5" stroke-width="0.6"/>
<text x="602.3" y="248.8" class="li">Nonmaterial contributions</text>
<rect x="575.4" y="263.4" width="21" height="13.1" fill="#7B7EC8" stroke="#7275ba" stroke-width="0.6"/>
<text x="602.3" y="274.8" class="li">Regulating contributions</text>
<text x="574.3" y="305.8" class="lh">Detrimental NCP</text>
<rect x="575.4" y="317.8" width="21" height="13.1" fill="#FFD0BF" stroke="#edc1b1" stroke-width="0.6"/>
<text x="602.3" y="328.2" class="li">Competition for habitats and resources</text>
<rect x="575.4" y="343.0" width="21" height="13.1" fill="#E5B08D" stroke="#d4a383" stroke-width="0.6"/>
<text x="602.3" y="353.3" class="li">Damage to property</text>
<rect x="575.4" y="367.8" width="21" height="13.1" fill="#C47C80" stroke="#b67377" stroke-width="0.6"/>
<text x="602.3" y="378.6" class="li">Risk to human life</text>
</svg>
</body></html>
